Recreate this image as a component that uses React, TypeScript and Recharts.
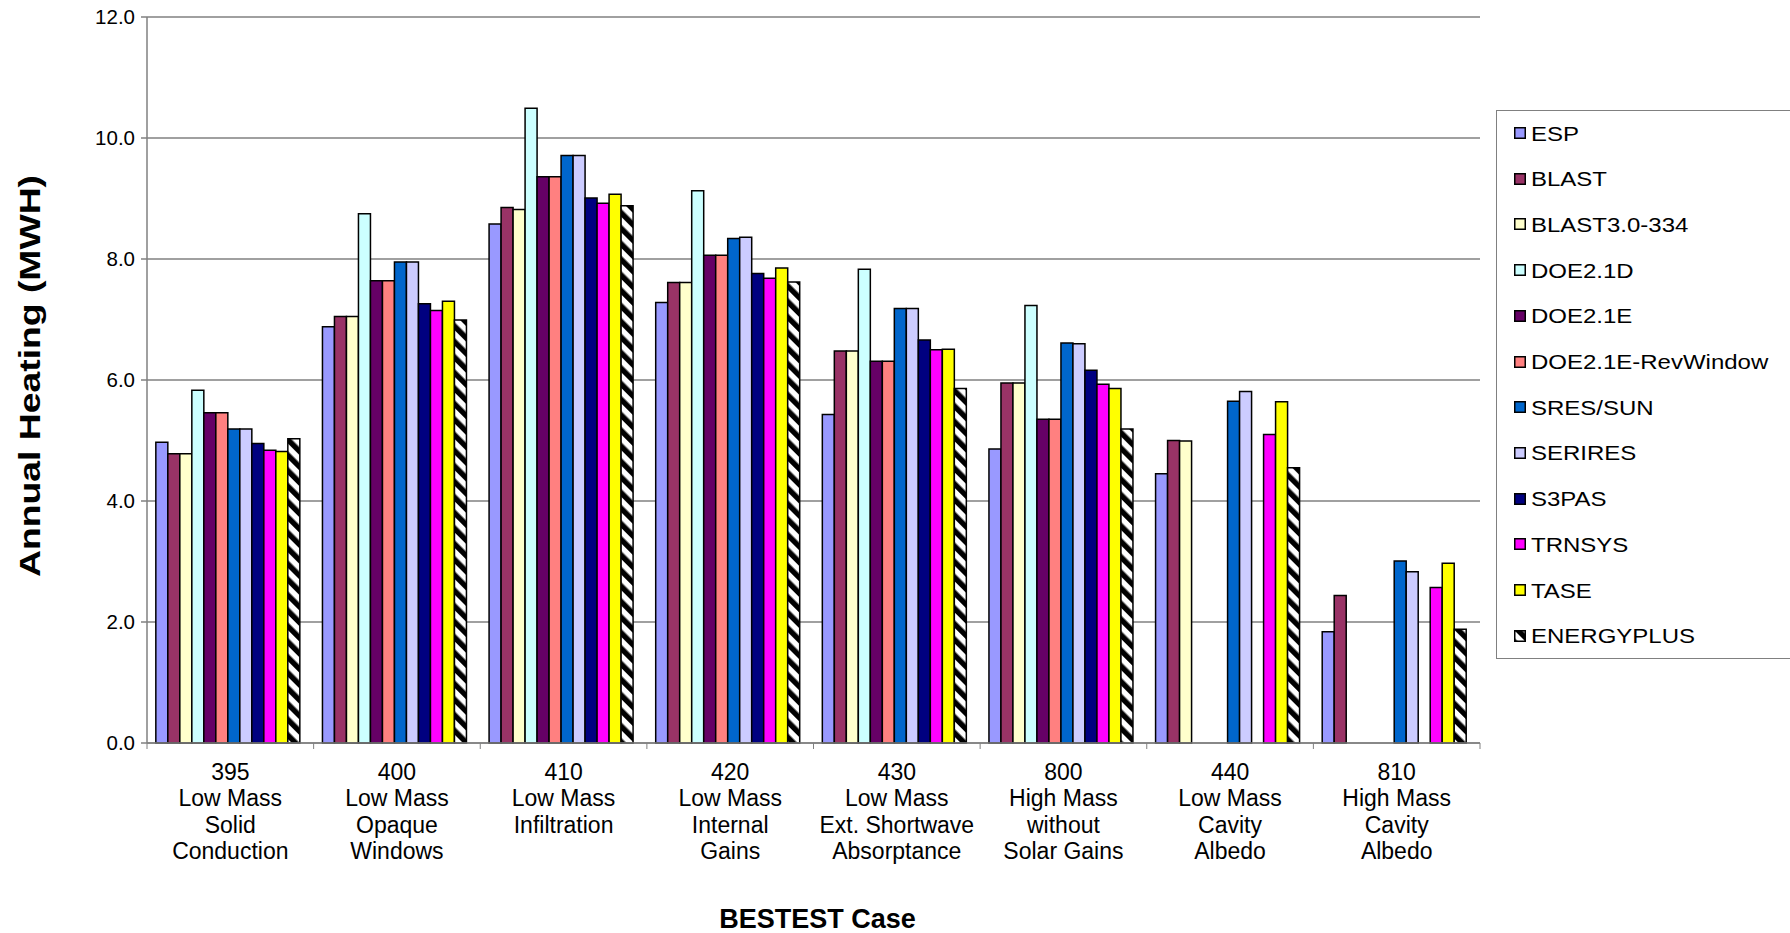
import React from 'react';
import { BarChart, Bar, XAxis, YAxis, CartesianGrid, Label } from 'recharts';

// BESTEST cases (x categories) and their description lines
const cases = ['395', '400', '410', '420', '430', '800', '440', '810'];
const caseLines = [
  ['Low Mass', 'Solid', 'Conduction'],
  ['Low Mass', 'Opaque', 'Windows'],
  ['Low Mass', 'Infiltration'],
  ['Low Mass', 'Internal', 'Gains'],
  ['Low Mass', 'Ext. Shortwave', 'Absorptance'],
  ['High Mass', 'without', 'Solar Gains'],
  ['Low Mass', 'Cavity', 'Albedo'],
  ['High Mass', 'Cavity', 'Albedo'],
];

const yTicks = [0, 2, 4, 6, 8, 10, 12];

// annual heating (MWH) per program, in case order; null = no result
const esp = [4.97, 6.88, 8.58, 7.28, 5.43, 4.86, 4.45, 1.84];
const blast = [4.78, 7.05, 8.85, 7.61, 6.48, 5.95, 5.0, 2.44];
const blast3 = [4.78, 7.05, 8.82, 7.61, 6.48, 5.95, 4.99, null];
const doe21d = [5.83, 8.75, 10.49, 9.13, 7.83, 7.23, null, null];
const doe21e = [5.46, 7.64, 9.36, 8.06, 6.31, 5.35, null, null];
const doe21eRev = [5.46, 7.64, 9.36, 8.06, 6.31, 5.35, null, null];
const sresSun = [5.19, 7.95, 9.71, 8.34, 7.18, 6.61, 5.65, 3.01];
const serires = [5.19, 7.95, 9.71, 8.36, 7.18, 6.6, 5.81, 2.83];
const s3pas = [4.95, 7.26, 9.01, 7.76, 6.66, 6.16, null, null];
const trnsys = [4.84, 7.15, 8.92, 7.68, 6.5, 5.93, 5.1, 2.57];
const tase = [4.82, 7.3, 9.07, 7.85, 6.51, 5.86, 5.64, 2.97];
const energyPlus = [5.03, 6.99, 8.88, 7.62, 5.86, 5.19, 4.55, 1.88];

const programs = [
  'ESP', 'BLAST', 'BLAST3.0-334', 'DOE2.1D', 'DOE2.1E', 'DOE2.1E-RevWindow',
  'SRES/SUN', 'SERIRES', 'S3PAS', 'TRNSYS', 'TASE', 'ENERGYPLUS',
];
const programValues = [
  esp, blast, blast3, doe21d, doe21e, doe21eRev,
  sresSun, serires, s3pas, trnsys, tase, energyPlus,
];

const COLORS = [
  '#9999FF', '#993366', '#FFFFCC', '#CCFFFF', '#660066', '#FF8080',
  '#0066CC', '#CCCCFF', '#000080', '#FF00FF', '#FFFF00', 'url(#hatch)',
];

const data = cases.map((c, ci) => {
  const row: Record<string, string | number | null> = { name: c };
  programs.forEach((p, pi) => {
    row[p] = programValues[pi][ci];
  });
  return row;
});

const FONT = '"Liberation Sans", Arial, sans-serif';
const WIDTH = 1790;
const HEIGHT = 933;
const PLOT_LEFT = 147;
const PLOT_RIGHT = 1480;
const GRAY = '#808080';
const BAND = (PLOT_RIGHT - PLOT_LEFT) / cases.length;

function CaseTick(props: any) {
  const { x, y, payload } = props;
  const i = payload.index;
  const lines = [cases[i], ...caseLines[i]];
  const left = x - BAND / 2;
  const right = x + BAND / 2;
  return (
    <g>
      <line x1={left} x2={left} y1={y} y2={y + 6} stroke={GRAY} strokeWidth={1} />
      {i === cases.length - 1 && (
        <line x1={right} x2={right} y1={y} y2={y + 6} stroke={GRAY} strokeWidth={1} />
      )}
      <text x={x} y={y + 37} textAnchor="middle" fontSize={23} fontFamily={FONT} fill="#000">
        {lines.map((l, k) => (
          <tspan key={k} x={x} dy={k === 0 ? 0 : 26.3}>
            {l}
          </tspan>
        ))}
      </text>
    </g>
  );
}

function YTitle(props: any) {
  const { viewBox } = props;
  const cx = viewBox.x + 40;
  const cy = viewBox.y + viewBox.height / 2 - 4;
  return (
    <text
      x={cx}
      y={cy}
      transform={`rotate(-90 ${cx} ${cy})`}
      textAnchor="middle"
      fontSize={30}
      fontWeight="bold"
      fontFamily={FONT}
      fill="#000"
      textLength={402}
      lengthAdjust="spacingAndGlyphs"
    >
      Annual Heating (MWH)
    </text>
  );
}

function XTitle(props: any) {
  const { viewBox } = props;
  const cx = viewBox.x + viewBox.width / 2 + 4;
  return (
    <text
      x={cx}
      y={viewBox.y + 185}
      textAnchor="middle"
      fontSize={27}
      fontWeight="bold"
      fontFamily={FONT}
      fill="#000"
    >
      BESTEST Case
    </text>
  );
}

function LegendBox() {
  return (
    <div
      style={{
        position: 'absolute',
        left: 1496,
        top: 110,
        width: 330,
        height: 549,
        border: `1px solid ${GRAY}`,
        boxSizing: 'border-box',
        background: '#fff',
        fontFamily: FONT,
      }}
    >
      {programs.map((p, i) => {
        const cy = 22 + i * 45.7;
        return (
          <div key={p}>
            <svg
              width={12}
              height={12}
              style={{ position: 'absolute', left: 17, top: cy - 6 }}
            >
              <rect x={0.75} y={0.75} width={10.5} height={10.5} fill={COLORS[i]} stroke="#000" strokeWidth={1.5} />
            </svg>
            <div
              style={{
                position: 'absolute',
                left: 34,
                top: cy - 11.5,
                height: 24,
                lineHeight: '24px',
                fontSize: 20.5,
                whiteSpace: 'nowrap',
                transform: 'scaleX(1.17)',
                transformOrigin: 'left center',
                color: '#000',
              }}
            >
              {p}
            </div>
          </div>
        );
      })}
    </div>
  );
}

export default function App() {
  return (
    <div
      style={{
        position: 'absolute',
        left: 0,
        top: 0,
        width: WIDTH,
        height: HEIGHT,
        background: '#fff',
        overflow: 'hidden',
      }}
    >
      <BarChart
        width={WIDTH}
        height={HEIGHT}
        data={data}
        margin={{ top: 17, right: WIDTH - PLOT_RIGHT, bottom: 0, left: 0 }}
        barCategoryGap="5.3%"
        barGap={0}
      >
        <defs>
          <pattern
            id="hatch"
            patternUnits="userSpaceOnUse"
            width={11}
            height={11}
            patternTransform="rotate(-45)"
          >
            <rect x={0} y={0} width={11} height={11} fill="#fff" />
            <rect x={0} y={0} width={5.5} height={11} fill="#000" />
          </pattern>
        </defs>
        <CartesianGrid vertical={false} stroke={GRAY} strokeWidth={1.5} />
        <XAxis
          dataKey="name"
          height={HEIGHT - 743}
          axisLine={{ stroke: GRAY, strokeWidth: 1.5 }}
          tickLine={false}
          tickSize={0}
          tickMargin={0}
          interval={0}
          tick={<CaseTick />}
        >
          <Label content={<XTitle />} />
        </XAxis>
        <YAxis
          width={PLOT_LEFT}
          domain={[0, 12]}
          ticks={yTicks}
          interval={0}
          tickFormatter={(v: number) => v.toFixed(1)}
          axisLine={{ stroke: GRAY, strokeWidth: 1.5 }}
          tickLine={{ stroke: GRAY, strokeWidth: 1.5 }}
          tickSize={6}
          tickMargin={6}
          tick={{ fontSize: 20.5, fill: '#000', fontFamily: FONT }}
        >
          <Label content={<YTitle />} />
        </YAxis>
        <YAxis
          yAxisId="frame"
          orientation="right"
          width={0}
          domain={[0, 12]}
          tick={false}
          tickLine={false}
          axisLine={{ stroke: GRAY, strokeWidth: 1.5 }}
        />
        {programs.map((p, i) => (
          <Bar
            key={p}
            dataKey={p}
            fill={COLORS[i]}
            stroke="#000"
            strokeWidth={1.5}
            isAnimationActive={false}
          />
        ))}
      </BarChart>
      <LegendBox />
    </div>
  );
}
